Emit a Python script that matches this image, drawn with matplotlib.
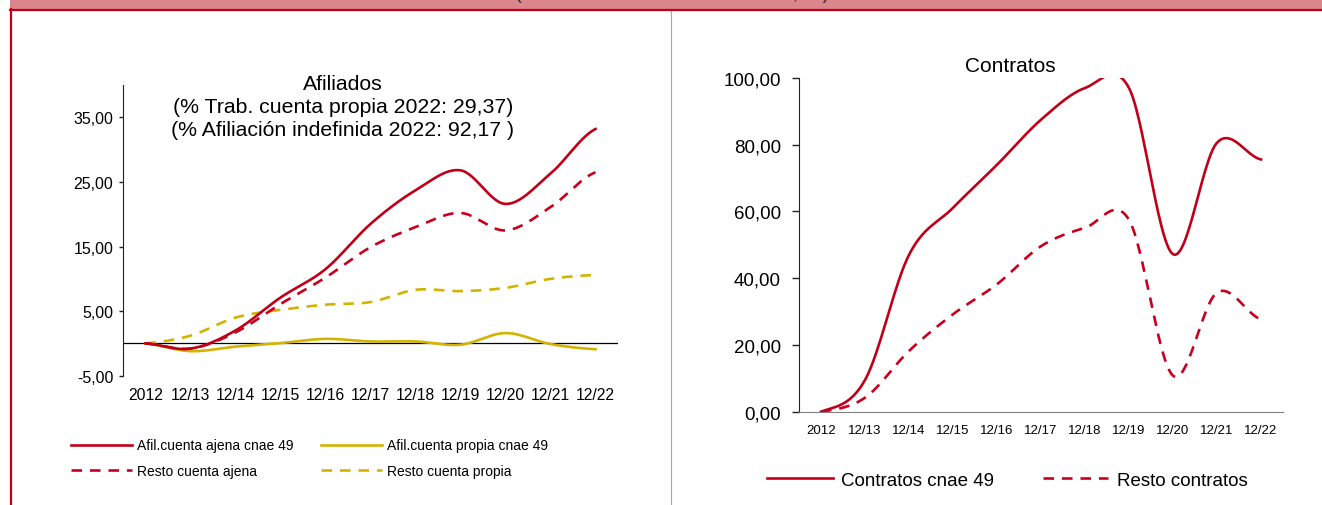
import numpy as np
import matplotlib
matplotlib.use("Agg")
import matplotlib.pyplot as plt
from matplotlib.lines import Line2D
from matplotlib.patches import Rectangle

plt.rcParams['font.family'] = ['Liberation Sans', 'DejaVu Sans']

# data
years = ['2012', '12/13', '12/14', '12/15', '12/16', '12/17',
         '12/18', '12/19', '12/20', '12/21', '12/22']
afil_ajena = [0, -0.8, 2.0, 7.1, 11.5, 18.5, 23.7, 26.8, 21.6, 26.3, 33.2]
resto_ajena = [0, -0.8, 1.7, 6.1, 10.2, 14.9, 18.0, 20.2, 17.5, 21.1, 26.5]
afil_propia = [0, -1.2, -0.5, 0.05, 0.7, 0.3, 0.3, -0.2, 1.6, -0.1, -0.9]
resto_propia = [0, 1.2, 4.0, 5.2, 6.0, 6.4, 8.3, 8.1, 8.6, 10.0, 10.6]
contratos = [0, 9.5, 47.0, 61.1, 74.0, 87.5, 97.0, 97.0, 47.2, 80.6, 75.6]
resto_contratos = [0, 4.2, 18.2, 29.2, 38.2, 49.6, 55.1, 57.5, 10.8, 35.7, 27.7]

left_ticks = [-5, 5, 15, 25, 35]
right_ticks = [0, 20, 40, 60, 80, 100]

RED = '#C00018'
RED2 = '#C8001E'
YEL = '#D2B400'
W, H = 1322, 506


def smooth(y, n=30):
    # Excel style smoothed line (Catmull-Rom through every point)
    y = np.asarray(y, float)
    yp = np.concatenate([[y[0]], y, [y[-1]]])
    t = np.linspace(0, 1, n, endpoint=False)
    h00 = 2 * t**3 - 3 * t**2 + 1
    h10 = t**3 - 2 * t**2 + t
    h01 = -2 * t**3 + 3 * t**2
    h11 = t**3 - t**2
    xs, ys = [], []
    for i in range(len(y) - 1):
        p0, p1, p2, p3 = yp[i], yp[i + 1], yp[i + 2], yp[i + 3]
        m1 = (p2 - p0) / 2
        m2 = (p3 - p1) / 2
        xs.append(i + t)
        ys.append(h00 * p1 + h10 * m1 + h01 * p2 + h11 * m2)
    xs.append([len(y) - 1])
    ys.append([y[-1]])
    return np.concatenate(xs), np.concatenate(ys)


def fmt(v):
    return f"{v:.2f}".replace('.', ',')


fig = plt.figure(figsize=(W / 100, H / 100), dpi=100)

# frame decoration (header band is cropped in the reference)
fig.add_artist(Rectangle((10 / W, 1 - 10 / H), 1, 10 / H, transform=fig.transFigure,
                         facecolor='#DB868D', edgecolor='none'))
fig.text(672 / W, 1 + 0.5 / H, '(Tasa de variación acumulada, %)', ha='center',
         va='baseline', fontsize=15, color='#333333')
fig.add_artist(Line2D([10 / W, 1], [1 - 10.5 / H] * 2, transform=fig.transFigure,
                      color=RED, lw=1.6))
fig.add_artist(Line2D([10.5 / W] * 2, [0, 1 - 10 / H], transform=fig.transFigure,
                      color=RED, lw=1.6))
fig.add_artist(Line2D([671 / W] * 2, [0, 1 - 12 / H], transform=fig.transFigure,
                      color='#A6A6A6', lw=0.8))

x = np.arange(len(years))

# ---- left: Afiliados
ax1 = fig.add_axes([123 / W, 1 - 376.7 / H, 495 / W, 290.6 / H])
ax1.plot(*smooth(afil_propia), color=YEL, lw=1.9)
ax1.plot(*smooth(resto_propia), color=YEL, lw=1.9, dashes=(4, 3))
ax1.plot(*smooth(resto_ajena), color=RED2, lw=1.9, dashes=(4, 3))
ax1.plot(*smooth(afil_ajena), color=RED, lw=1.9)
ax1.axhline(0, color='black', lw=0.9, zorder=1)
ax1.set_xlim(-0.5, len(years) - 0.5)
ax1.set_ylim(-5, 40)
ax1.set_yticks(left_ticks)
ax1.set_yticklabels([fmt(v) for v in left_ticks], fontsize=11.5)
ax1.set_xticks(x)
ax1.set_xticklabels(years, fontsize=11.3)
for s in ['top', 'right', 'bottom']:
    ax1.spines[s].set_visible(False)
ax1.spines['left'].set_color('#222222')
ax1.tick_params(axis='y', length=3, width=1, color='#222222', pad=4)
ax1.tick_params(axis='x', length=0, pad=8)
fig.text(343 / W, 1 - 75 / H, 'Afiliados\n(% Trab. cuenta propia 2022: 29,37)\n'
         '(% Afiliación indefinida 2022: 92,17 )', ha='center', va='top',
         fontsize=15.3, linespacing=1.27)

h_left = [Line2D([], [], color=RED, lw=1.9),
          Line2D([], [], color=RED2, lw=1.9, dashes=(4, 3)),
          Line2D([], [], color=YEL, lw=1.9),
          Line2D([], [], color=YEL, lw=1.9, dashes=(4, 3))]
l_left = ['Afil.cuenta ajena cnae 49', 'Resto cuenta ajena',
          'Afil.cuenta propia cnae 49', 'Resto cuenta propia']
fig.legend(h_left, l_left, ncol=2, loc='center left',
           bbox_to_anchor=(71 / W, 1 - 459 / H), frameon=False, fontsize=10,
           handlelength=4.4, handletextpad=0.35, columnspacing=2.0,
           labelspacing=0.8, borderpad=0, borderaxespad=0)

# ---- right: Contratos
ax2 = fig.add_axes([799 / W, 1 - 412.7 / H, 484 / W, 333.7 / H])
ax2.plot(*smooth(resto_contratos), color=RED2, lw=1.9, dashes=(4, 3))
ax2.plot(*smooth(contratos), color=RED, lw=1.9)
ax2.set_xlim(-0.5, len(years) - 0.5)
ax2.set_ylim(0, 100)
ax2.set_yticks(right_ticks)
ax2.set_yticklabels([fmt(v) for v in right_ticks], fontsize=13.5)
ax2.set_xticks(x)
ax2.set_xticklabels(years, fontsize=9.5)
for s in ['top', 'right']:
    ax2.spines[s].set_visible(False)
ax2.spines['left'].set_color('#222222')
ax2.spines['bottom'].set_color('#808080')
ax2.tick_params(axis='y', length=5, width=1, color='#222222', pad=8)
ax2.tick_params(axis='x', length=0, pad=9)
fig.text(1010 / W, 1 - 67 / H, 'Contratos', ha='center', va='center', fontsize=15)

h_right = [Line2D([], [], color=RED, lw=1.9),
           Line2D([], [], color=RED2, lw=1.9, dashes=(4, 3))]
fig.legend(h_right, ['Contratos cnae 49', 'Resto contratos'], ncol=2,
           loc='center left', bbox_to_anchor=(767 / W, 1 - 481 / H), frameon=False,
           fontsize=13.5, handlelength=3.5, handletextpad=0.45, columnspacing=2.6,
           borderpad=0, borderaxespad=0)

fig.savefig('out.png', dpi=100)
